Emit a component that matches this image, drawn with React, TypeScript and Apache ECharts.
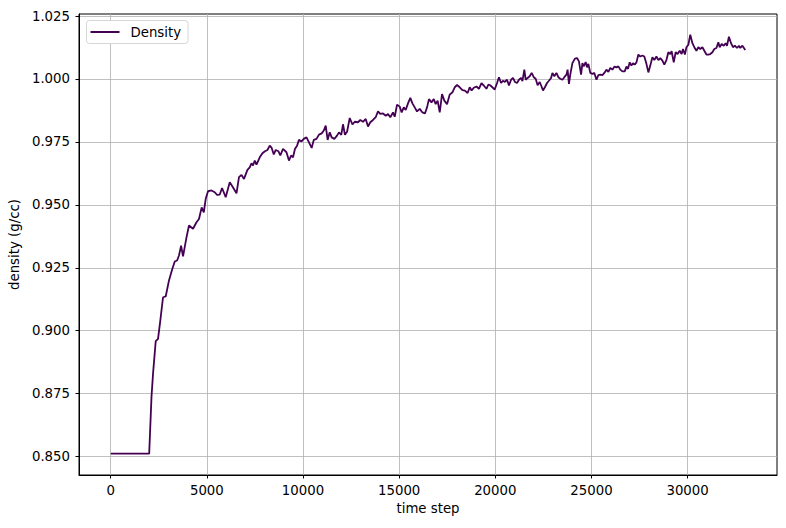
import React, { useEffect, useRef } from 'react';
import * as echarts from 'echarts';

// time steps and density
const timeSteps = [
    0, 2000, 2120, 2200, 2340, 2460, 2580, 2720, 2860, 3030,
    3190, 3330, 3450, 3550, 3660, 3760, 3940, 4070, 4280, 4460,
    4590, 4730, 4840, 4940, 5060, 5240, 5410, 5530, 5670, 5790,
    5980, 6190, 6330, 6540, 6670, 6800, 6930, 7110, 7230, 7320,
    7400, 7490, 7580, 7750, 7890, 8020, 8150, 8270, 8370, 8480,
    8580, 8720, 8820, 8960, 9140, 9270, 9380, 9480, 9580, 9690,
    9790, 9920, 10040, 10180, 10310, 10450, 10560, 10700, 10830, 10970,
    11080, 11180, 11280, 11390, 11490, 11630, 11770, 11870, 11990, 12080,
    12180, 12290, 12430, 12570, 12690, 12860, 12980, 13120, 13260, 13380,
    13500, 13640, 13780, 13900, 14020, 14160, 14300, 14420, 14540, 14680,
    14770, 14890, 15030, 15130, 15240, 15340, 15460, 15580, 15690, 15810,
    15930, 16070, 16210, 16340, 16450, 16550, 16680, 16800, 16900, 17000,
    17110, 17230, 17350, 17490, 17630, 17770, 17890, 18010, 18150, 18290,
    18420, 18560, 18670, 18770, 18880, 19020, 19150, 19280, 19400, 19540,
    19640, 19730, 19850, 19970, 20090, 20190, 20300, 20400, 20500, 20610,
    20710, 20820, 20920, 21020, 21130, 21230, 21340, 21410, 21510, 21580,
    21680, 21790, 21890, 22000, 22100, 22200, 22310, 22400, 22480, 22580,
    22690, 22790, 22900, 22970, 23070, 23180, 23280, 23380, 23490, 23590,
    23700, 23760, 23830, 23900, 24010, 24140, 24250, 24350, 24460, 24530,
    24600, 24700, 24770, 24840, 24940, 25050, 25150, 25260, 25360, 25460,
    25570, 25670, 25780, 25880, 25980, 26090, 26190, 26300, 26400, 26500,
    26610, 26730, 26820, 26900, 26990, 27080, 27160, 27250, 27340, 27440,
    27540, 27650, 27750, 27860, 27960, 28060, 28170, 28270, 28380, 28480,
    28580, 28690, 28790, 28900, 29000, 29100, 29170, 29280, 29380, 29480,
    29590, 29690, 29760, 29860, 29940, 30040, 30140, 30250, 30350, 30460,
    30560, 30660, 30770, 30870, 30980, 31080, 31180, 31290, 31390, 31500,
    31600, 31670, 31770, 31880, 31980, 32050, 32150, 32260, 32360, 32460,
    32570, 32670, 32740, 32850, 33000,
];

const density = [
    0.8512, 0.8512, 0.8737, 0.8829, 0.8959, 0.8968, 0.9041, 0.9133, 0.9136, 0.9200,
    0.9242, 0.9275, 0.9279, 0.9299, 0.9338, 0.9295, 0.9371, 0.9418, 0.9405, 0.9431,
    0.9444, 0.9490, 0.9470, 0.9524, 0.9554, 0.9557, 0.9550, 0.9540, 0.9541, 0.9567,
    0.9530, 0.9590, 0.9573, 0.9546, 0.9610, 0.9619, 0.9603, 0.9639, 0.9649, 0.9665,
    0.9656, 0.9676, 0.9660, 0.9689, 0.9705, 0.9713, 0.9718, 0.9735, 0.9726, 0.9700,
    0.9718, 0.9713, 0.9696, 0.9722, 0.9709, 0.9676, 0.9696, 0.9689, 0.9722, 0.9735,
    0.9758, 0.9752, 0.9762, 0.9768, 0.9748, 0.9726, 0.9758, 0.9762, 0.9779, 0.9784,
    0.9795, 0.9815, 0.9758, 0.9788, 0.9768, 0.9762, 0.9775, 0.9788, 0.9778, 0.9820,
    0.9778, 0.9790, 0.9845, 0.9819, 0.9830, 0.9828, 0.9837, 0.9830, 0.9841, 0.9811,
    0.9828, 0.9837, 0.9848, 0.9871, 0.9861, 0.9863, 0.9854, 0.9861, 0.9848, 0.9867,
    0.9850, 0.9898, 0.9890, 0.9867, 0.9887, 0.9877, 0.9903, 0.9925, 0.9903, 0.9887,
    0.9871, 0.9881, 0.9867, 0.9863, 0.9887, 0.9920, 0.9907, 0.9920, 0.9900, 0.9914,
    0.9867, 0.9940, 0.9914, 0.9900, 0.9938, 0.9947, 0.9967, 0.9976, 0.9967, 0.9956,
    0.9954, 0.9944, 0.9967, 0.9954, 0.9965, 0.9970, 0.9961, 0.9983, 0.9974, 0.9961,
    0.9978, 0.9975, 0.9967, 0.9958, 0.9984, 1.0007, 0.9984, 0.9993, 0.9988, 0.9997,
    0.9974, 0.9997, 1.0004, 0.9988, 0.9984, 0.9997, 1.0004, 0.9991, 1.0037, 0.9997,
    1.0004, 1.0011, 1.0024, 1.0007, 1.0001, 0.9975, 0.9988, 0.9971, 0.9954, 0.9967,
    0.9984, 0.9993, 1.0004, 1.0024, 1.0011, 1.0024, 1.0007, 1.0001, 0.9997, 1.0007,
    1.0017, 1.0037, 0.9980, 1.0017, 1.0063, 1.0081, 1.0083, 1.0070, 1.0017, 1.0063,
    1.0050, 1.0067, 1.0046, 1.0060, 1.0024, 1.0020, 1.0024, 0.9997, 1.0015, 1.0017,
    1.0015, 1.0024, 1.0037, 1.0028, 1.0044, 1.0037, 1.0049, 1.0046, 1.0050, 1.0037,
    1.0030, 1.0030, 1.0049, 1.0040, 1.0066, 1.0053, 1.0062, 1.0057, 1.0066, 1.0097,
    1.0089, 1.0093, 1.0089, 1.0060, 1.0026, 1.0053, 1.0086, 1.0075, 1.0089, 1.0075,
    1.0083, 1.0073, 1.0057, 1.0075, 1.0106, 1.0099, 1.0110, 1.0066, 1.0106, 1.0099,
    1.0112, 1.0099, 1.0119, 1.0097, 1.0126, 1.0136, 1.0176, 1.0142, 1.0126, 1.0112,
    1.0126, 1.0119, 1.0126, 1.0112, 1.0097, 1.0097, 1.0099, 1.0106, 1.0119, 1.0123,
    1.0146, 1.0126, 1.0139, 1.0132, 1.0142, 1.0132, 1.0168, 1.0142, 1.0126, 1.0132,
    1.0123, 1.0132, 1.0123, 1.0132, 1.0115,
];

const xTicks = [0, 5000, 10000, 15000, 20000, 25000, 30000];
const yTicks = [0.85, 0.875, 0.9, 0.925, 0.95, 0.975, 1.0, 1.025];

const FONT = 'DejaVu Sans';
const LINE_COLOR = '#440154';

const DensityChart: React.FC = () => {
    const chartRef = useRef<HTMLDivElement>(null);

    useEffect(() => {
        document.body.style.margin = '0';
        if (!chartRef.current) return;
        const chart = echarts.init(chartRef.current, null, { renderer: 'svg' });

        const axisCommon = {
            axisLine: { show: true, onZero: false, lineStyle: { color: '#000', width: 1 } },
            axisTick: { show: true, length: 3.5, lineStyle: { color: '#000', width: 1 } },
            splitLine: { show: true, lineStyle: { color: '#b0b0b0', width: 0.8 } },
            nameTextStyle: { fontFamily: FONT, fontSize: 13.3, color: '#000' },
        };

        chart.setOption({
            animation: false,
            backgroundColor: '#fff',
            textStyle: { fontFamily: FONT },
            grid: {
                left: 79, top: 14, width: 698, height: 461,
                show: true, borderColor: '#000', borderWidth: 1,
                backgroundColor: 'transparent',
            },
            legend: {
                left: 86.5, top: 20.5,
                data: ['Density'],
                icon: 'rect',
                itemWidth: 29, itemHeight: 2,
                padding: [5, 7, 5, 4],
                borderColor: '#d6d6d6', borderWidth: 1, borderRadius: 3,
                backgroundColor: '#fff',
                textStyle: { fontFamily: FONT, fontSize: 13.3, color: '#000', padding: [0, 0, 0, 6] },
            },
            xAxis: {
                type: 'value',
                min: -1650, max: 34650,
                name: 'time step', nameLocation: 'middle', nameGap: 27,
                ...axisCommon,
                axisTick: { ...axisCommon.axisTick, customValues: xTicks },
                axisLabel: {
                    customValues: xTicks, margin: 9,
                    fontFamily: FONT, fontSize: 13.3, color: '#000',
                    formatter: (v: number) => String(v),
                },
            },
            yAxis: {
                type: 'value',
                min: 0.8427, max: 1.0258,
                name: 'density (g/cc)', nameLocation: 'middle', nameGap: 56,
                ...axisCommon,
                axisTick: { ...axisCommon.axisTick, customValues: yTicks },
                axisLabel: {
                    customValues: yTicks, margin: 9,
                    fontFamily: FONT, fontSize: 13.3, color: '#000',
                    formatter: (v: number) => v.toFixed(3),
                },
            },
            series: [{
                name: 'Density',
                type: 'line',
                data: timeSteps.map((t, i) => [t, density[i]]),
                symbol: 'none',
                color: LINE_COLOR,
                lineStyle: { color: LINE_COLOR, width: 1.8 },
            }],
        });

        return () => {
            chart.dispose();
        };
    }, []);

    return <div ref={chartRef} style={{ width: '786px', height: '528px' }} />;
};

export default function App() {
    return <DensityChart />;
}
